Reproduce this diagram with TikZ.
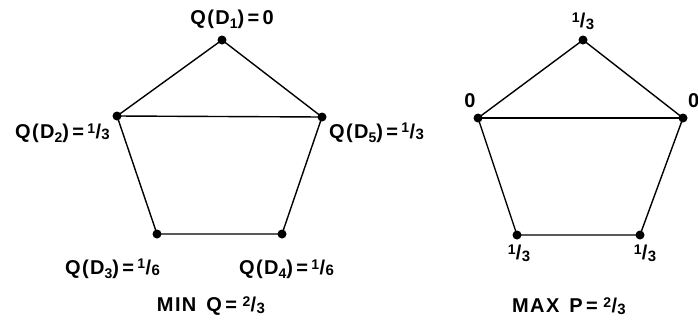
\documentclass[tikz,border=0pt]{standalone}
\usepackage{fontspec}
\setmainfont{Liberation Sans}[LetterSpace=7,BoldFont={Liberation Sans Bold}]
\newcommand\myfr[2]{\raisebox{0.5ex}{\fontsize{14}{14}\selectfont #1}\kern0.02em/\kern0.02em\raisebox{-0.15ex}{\fontsize{15}{15}\selectfont #2}}
\newcommand\mysub[1]{\raisebox{-0.4ex}{\fontsize{14}{14}\selectfont #1}}
\begin{document}
\begin{tikzpicture}[x=1pt,y=-1pt,
  vtx/.style={circle,fill=black,inner sep=0pt,minimum size=9pt},
  lbl/.style={inner sep=0pt,font=\fontsize{20}{24}\selectfont\bfseries},
  edge/.style={line width=1.4pt}]
\useasboundingbox (0,0) rectangle (698,333);
% left pentagon
\node[vtx] (a1) at (222,40) {};
\node[vtx] (a2) at (117,116) {};
\node[vtx] (a5) at (322,117) {};
\node[vtx] (a3) at (157,234) {};
\node[vtx] (a4) at (282,234) {};
\draw[edge] (a1.center) -- (a2.center) -- (a3.center) -- (a4.center) -- (a5.center) -- (a1.center);
\draw[edge] (a2.center) -- (a5.center);
\node[lbl] (l1) at (232,19) {Q(D\mysub{1})\,=\,0};
\node[lbl,anchor=east] (l2) at (110,133) {Q(D\mysub{2})\,=\,\myfr{1}{3}};
\node[lbl,anchor=west] (l5) at (329,133) {Q(D\mysub{5})\,=\,\myfr{1}{3}};
\node[lbl,anchor=west] (l3) at (65,269) {Q(D\mysub{3})\,=\,\myfr{1}{6}};
\node[lbl,anchor=west] (l4) at (239,269) {Q(D\mysub{4})\,=\,\myfr{1}{6}};
\node[lbl] (lmin) at (211,306) {MIN\enspace Q\,=\;\myfr{2}{3}};
% right pentagon
\node[vtx] (b1) at (583,40) {};
\node[vtx] (b2) at (478,118) {};
\node[vtx] (b5) at (683,118) {};
\node[vtx] (b3) at (517,235) {};
\node[vtx] (b4) at (640,235) {};
\draw[edge] (b1.center) -- (b2.center) -- (b3.center) -- (b4.center) -- (b5.center) -- (b1.center);
\draw[edge] (b2.center) -- (b5.center);
\node[lbl] (r1) at (583,21) {\myfr{1}{3}};
\node[lbl] (r2) at (470,101) {0};
\node[lbl,anchor=west] (r5) at (688,101) {0};
\node[lbl] (r3) at (519,253) {\myfr{1}{3}};
\node[lbl] (r4) at (645,253) {\myfr{1}{3}};
\node[lbl] (rmax) at (569,306) {MAX\enspace P\,=\;\myfr{2}{3}};
\end{tikzpicture}
\end{document}
